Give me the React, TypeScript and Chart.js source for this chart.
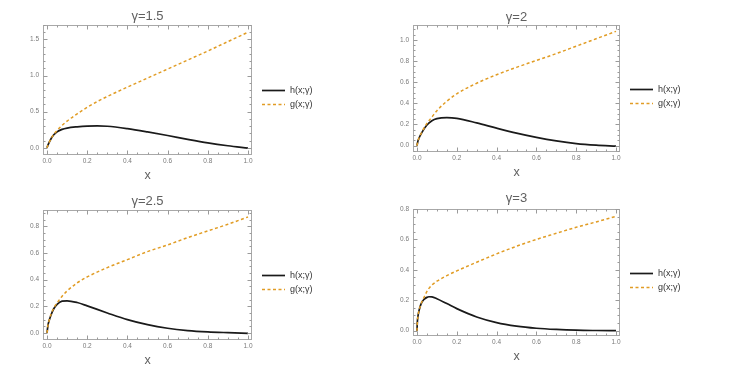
import React, { useEffect, useRef } from "react";
import { Chart, registerables } from "chart.js";

Chart.register(...registerables);

// ---------------- data ----------------
const xTickValues = [0, 0.2, 0.4, 0.6, 0.8, 1.0];
const seriesNames = ["h(x;γ)", "g(x;γ)"];
const panelTitles = ["γ=1.5", "γ=2", "γ=2.5", "γ=3"];

// γ = 1.5
const x15 = [0, 0.005, 0.01, 0.025, 0.05, 0.075, 0.1, 0.15, 0.2, 0.25, 0.3, 0.4, 0.5, 0.6, 0.7, 0.8, 0.9, 1.0];
const h15 = [0, 0.04, 0.07, 0.15, 0.22, 0.255, 0.273, 0.29, 0.3, 0.302, 0.298, 0.265, 0.22, 0.17, 0.117, 0.068, 0.028, -0.005];
const g15 = [0, 0.04, 0.07, 0.15, 0.24, 0.31, 0.37, 0.47, 0.56, 0.64, 0.71, 0.84, 0.965, 1.09, 1.215, 1.34, 1.47, 1.6];
const yTicks15 = [0, 0.5, 1.0, 1.5];

// γ = 2
const x2 = [0, 0.005, 0.01, 0.025, 0.05, 0.075, 0.1, 0.15, 0.2, 0.3, 0.4, 0.5, 0.6, 0.7, 0.8, 0.9, 1.0];
const h2 = [0, 0.045, 0.07, 0.125, 0.195, 0.235, 0.255, 0.265, 0.258, 0.215, 0.165, 0.118, 0.078, 0.045, 0.02, 0.005, -0.004];
const g2 = [0, 0.045, 0.07, 0.13, 0.21, 0.27, 0.33, 0.42, 0.49, 0.59, 0.67, 0.74, 0.805, 0.87, 0.94, 1.01, 1.08];
const yTicks2 = [0, 0.2, 0.4, 0.6, 0.8, 1.0];

// γ = 2.5
const x25 = [0, 0.005, 0.01, 0.02, 0.035, 0.05, 0.075, 0.1, 0.15, 0.2, 0.3, 0.4, 0.5, 0.6, 0.7, 0.8, 0.9, 1.0];
const h25 = [0, 0.06, 0.09, 0.135, 0.185, 0.215, 0.238, 0.241, 0.228, 0.203, 0.15, 0.1, 0.062, 0.035, 0.018, 0.008, 0.002, -0.003];
const g25 = [0, 0.06, 0.09, 0.14, 0.19, 0.225, 0.275, 0.315, 0.375, 0.42, 0.49, 0.55, 0.61, 0.66, 0.715, 0.765, 0.815, 0.87];
const yTicks25 = [0, 0.2, 0.4, 0.6, 0.8];

// γ = 3
const x3 = [0, 0.002, 0.005, 0.01, 0.02, 0.035, 0.05, 0.06, 0.075, 0.1, 0.15, 0.2, 0.3, 0.4, 0.5, 0.6, 0.7, 0.8, 0.9, 1.0];
const h3 = [0, 0.06, 0.095, 0.13, 0.175, 0.205, 0.219, 0.223, 0.222, 0.21, 0.178, 0.145, 0.09, 0.053, 0.03, 0.016, 0.008, 0.003, 0.001, 0];
const g3 = [0, 0.06, 0.095, 0.13, 0.175, 0.218, 0.258, 0.278, 0.3, 0.325, 0.362, 0.393, 0.45, 0.505, 0.555, 0.6, 0.64, 0.68, 0.715, 0.752];
const yTicks3 = [0, 0.2, 0.4, 0.6, 0.8];

// ---------------- layout / style ----------------
const FONT = '"Liberation Sans", Arial, sans-serif';
const H_COLOR = "#1a1a1a";
const G_COLOR = "#E19C24";

type Panel = {
  title: string;
  xs: number[];
  h: number[];
  g: number[];
  yTicks: number[];
  yMinorStep: number;
  yMin: number;
  yMax: number;
  left: number;
  top: number;
  width: number;
  height: number;
  chartLeft: number;
  chartRight: number;
  titleGap: number;
};

const panels: Panel[] = [
  { title: panelTitles[0], xs: x15, h: h15, g: g15, yTicks: yTicks15, yMinorStep: 0.1, yMin: -0.1, yMax: 1.7,
    left: 0, top: 0, width: 366, height: 185, chartLeft: 43, chartRight: 252, titleGap: 8.5 },
  { title: panelTitles[1], xs: x2, h: h2, g: g2, yTicks: yTicks2, yMinorStep: 0.05, yMin: -0.06, yMax: 1.14,
    left: 366, top: 0, width: 367, height: 182, chartLeft: 47, chartRight: 254, titleGap: 8 },
  { title: panelTitles[2], xs: x25, h: h25, g: g25, yTicks: yTicks25, yMinorStep: 0.05, yMin: -0.053, yMax: 0.922,
    left: 0, top: 185, width: 366, height: 185, chartLeft: 43, chartRight: 252, titleGap: 8.7 },
  { title: panelTitles[3], xs: x3, h: h3, g: g3, yTicks: yTicks3, yMinorStep: 0.05, yMin: -0.035, yMax: 0.8,
    left: 366, top: 184, width: 367, height: 182, chartLeft: 47, chartRight: 254, titleGap: 10.5 },
];

function minorTicks(majors: number[], step: number, min: number, max: number): number[] {
  const out: number[] = [];
  const start = Math.ceil(min / step - 1e-9);
  const end = Math.floor(max / step + 1e-9);
  for (let k = start; k <= end; k++) {
    const v = +(k * step).toFixed(4);
    if (!majors.some((m) => Math.abs(m - v) < 1e-6)) out.push(v);
  }
  return out;
}

function PanelChart({ p }: { p: Panel }) {
  const ref = useRef<HTMLCanvasElement | null>(null);
  useEffect(() => {
    if (!ref.current) return;
    const titleFontSize = 13;
    const titleLH = titleFontSize * 1.2;
    const titleTopArea = 25;
    const padBottom = p.titleGap - titleLH / 2;
    const padTop = titleTopArea - titleLH - padBottom;
    const xMinor = minorTicks(xTickValues, 0.05, -0.02, 1.02);
    const yMinor = minorTicks(p.yTicks, p.yMinorStep, p.yMin, p.yMax);

    const framePlugin = {
      id: "mmaFrame",
      afterDraw(chart: any) {
        const { ctx, chartArea: a, scales } = chart;
        const sx = scales.x;
        const sy = scales.y;
        ctx.save();
        ctx.lineWidth = 1;
        ctx.strokeStyle = "#a8a8a8";
        const L = Math.round(a.left) + 0.5;
        const R = Math.round(a.right) - 0.5;
        const T = Math.round(a.top) + 0.5;
        const B = Math.round(a.bottom) - 0.5;
        const seg = (x1: number, y1: number, x2: number, y2: number) => {
          ctx.beginPath();
          ctx.moveTo(x1, y1);
          ctx.lineTo(x2, y2);
          ctx.stroke();
        };
        ctx.strokeRect(L, T, R - L, B - T);
        ctx.strokeStyle = "#9a9a9a";
        const xt = (v: number, len: number) => {
          const px = Math.round(sx.getPixelForValue(v)) + 0.5;
          if (px < L || px > R) return;
          seg(px, B, px, B - len);
          seg(px, T, px, T + len);
        };
        const yt = (v: number, len: number) => {
          const py = Math.round(sy.getPixelForValue(v)) + 0.5;
          if (py < T || py > B) return;
          seg(L, py, L + len, py);
          seg(R, py, R - len, py);
        };
        xTickValues.forEach((v) => xt(v, 4));
        xMinor.forEach((v) => xt(v, 2));
        p.yTicks.forEach((v) => yt(v, 4));
        yMinor.forEach((v) => yt(v, 2));
        ctx.restore();
      },
    };

    const legendPlugin = {
      id: "sideLegend",
      afterDraw(chart: any) {
        const { ctx, chartArea: a } = chart;
        const cy = (a.top + a.bottom) / 2;
        chart.data.datasets.forEach((ds: any, i: number) => {
          const y = Math.round(cy + i * 14) + 0.5;
          ctx.save();
          ctx.strokeStyle = ds.borderColor;
          ctx.lineWidth = ds.borderWidth;
          ctx.setLineDash(ds.borderDash || []);
          ctx.beginPath();
          ctx.moveTo(a.right + 10, y);
          ctx.lineTo(a.right + 33, y);
          ctx.stroke();
          ctx.setLineDash([]);
          ctx.fillStyle = "#333333";
          ctx.font = `9px ${FONT}`;
          ctx.textBaseline = "middle";
          ctx.textAlign = "left";
          ctx.fillText(ds.label, a.right + 38, y);
          ctx.restore();
        });
      },
    };

    const chart = new Chart(ref.current, {
      type: "line",
      data: {
        datasets: [
          {
            label: seriesNames[0],
            data: p.xs.map((x, i) => ({ x, y: p.h[i] })),
            borderColor: H_COLOR,
            borderWidth: 1.7,
            pointRadius: 0,
            cubicInterpolationMode: "monotone",
            fill: false,
            order: 1,
          },
          {
            label: seriesNames[1],
            data: p.xs.map((x, i) => ({ x, y: p.g[i] })),
            borderColor: G_COLOR,
            borderWidth: 1.5,
            borderDash: [3, 2.5],
            pointRadius: 0,
            cubicInterpolationMode: "monotone",
            fill: false,
            order: 0,
          },
        ],
      },
      options: {
        animation: false,
        responsive: false,
        devicePixelRatio: 1,
        events: [],
        layout: { padding: { left: 0, top: 0, bottom: 0, right: p.width - p.chartRight } },
        plugins: {
          legend: { display: false },
          tooltip: { enabled: false },
          title: {
            display: true,
            fullSize: false,
            text: p.title,
            color: "#606060",
            font: { size: titleFontSize, family: FONT, weight: "normal" },
            padding: { top: padTop, bottom: padBottom },
          },
        },
        scales: {
          x: {
            type: "linear",
            min: -0.02,
            max: 1.02,
            afterBuildTicks: (s: any) => {
              s.ticks = xTickValues.map((v) => ({ value: v }));
            },
            afterFit: (s: any) => {
              s.height = 30;
              s.paddingLeft = 0;
              s.paddingRight = 0;
            },
            grid: { display: false, drawTicks: false },
            border: { display: false },
            ticks: {
              autoSkip: false,
              maxRotation: 0,
              padding: 2,
              color: "#7a7a7a",
              font: { size: 6.5, family: FONT },
              callback: (v: any) => Number(v).toFixed(1),
            },
            title: {
              display: true,
              text: "x",
              color: "#606060",
              font: { size: 12.5, family: FONT },
              padding: { top: 0, bottom: 2 },
            },
          },
          y: {
            type: "linear",
            min: p.yMin,
            max: p.yMax,
            afterBuildTicks: (s: any) => {
              s.ticks = p.yTicks.map((v) => ({ value: v }));
            },
            afterFit: (s: any) => {
              s.width = p.chartLeft;
              s.paddingTop = 0;
              s.paddingBottom = 0;
            },
            grid: { display: false, drawTicks: false },
            border: { display: false },
            ticks: {
              autoSkip: false,
              padding: 4,
              color: "#7a7a7a",
              font: { size: 6.5, family: FONT },
              callback: (v: any) => Number(v).toFixed(1),
            },
          },
        },
      } as any,
      plugins: [framePlugin, legendPlugin],
    });
    return () => chart.destroy();
  }, [p]);

  return (
    <canvas
      ref={ref}
      width={p.width}
      height={p.height}
      style={{ position: "absolute", left: p.left, top: p.top, width: p.width, height: p.height }}
    />
  );
}

export default function App() {
  return (
    <div style={{ position: "fixed", left: 0, top: 0, width: 733, height: 369, background: "#ffffff", overflow: "hidden" }}>
      {panels.map((p, i) => (
        <PanelChart key={i} p={p} />
      ))}
    </div>
  );
}
